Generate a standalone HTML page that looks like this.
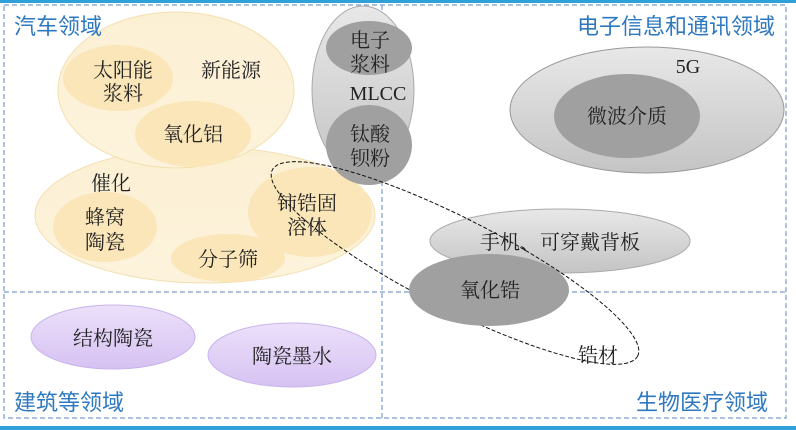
<!DOCTYPE html>
<html><head><meta charset="utf-8"><style>
html,body{margin:0;padding:0;background:#fff;}
svg{display:block;}
text{font-family:"Liberation Serif","Noto Serif CJK SC","Noto Sans CJK SC",serif;font-size:20px;fill:#222;}
.t{font-family:"Liberation Sans","Noto Sans CJK SC",sans-serif;font-size:22px;fill:#2e78c0;}
</style></head><body>
<svg width="796" height="430" viewBox="0 0 796 430">
<defs>
<linearGradient id="y" x1="0" y1="0" x2="0" y2="1"><stop offset="0" stop-color="#fcf0d4"/><stop offset="1" stop-color="#fdf3dc"/></linearGradient>
<linearGradient id="g" x1="0" y1="0" x2="0" y2="1"><stop offset="0" stop-color="#e8e8e8"/><stop offset="1" stop-color="#c4c4c4"/></linearGradient>
<linearGradient id="p" x1="0" y1="0" x2="0" y2="1"><stop offset="0" stop-color="#ece0fa"/><stop offset="1" stop-color="#d6c2f2"/></linearGradient>
</defs>
<rect x="0" y="0" width="796" height="3" fill="#2fa0d8"/>
<rect x="0" y="426" width="796" height="4" fill="#2fa0d8"/>
<g fill="none" stroke="#7a9cc8" stroke-width="1.2" stroke-dasharray="5,3">
<rect x="4" y="5" width="782" height="413"/>
<line x1="382" y1="5" x2="382" y2="418"/>
<line x1="4" y1="292" x2="786" y2="292"/>
</g>
<ellipse cx="205" cy="215" rx="170" ry="68" fill="url(#y)" stroke="#f3dfae" stroke-width="1"/>
<ellipse cx="176" cy="90" rx="118" ry="78" fill="url(#y)" stroke="#f3dfae" stroke-width="1"/>
<ellipse cx="118" cy="78" rx="55" ry="33" fill="#fae6b8"/>
<ellipse cx="193" cy="134" rx="58" ry="33" fill="#fae6b8"/>
<ellipse cx="105" cy="227" rx="52" ry="35" fill="#fae6b8"/>
<ellipse cx="228" cy="258" rx="57" ry="24" fill="#fae6b8"/>
<ellipse cx="310" cy="212" rx="62" ry="45" fill="#fae6b8"/>
<ellipse cx="363" cy="90" rx="51" ry="84" fill="url(#g)" stroke="#aaa" stroke-width="1"/>
<ellipse cx="369" cy="48" rx="43" ry="27" fill="#a0a0a0"/>
<ellipse cx="369" cy="145" rx="43" ry="40" fill="#a0a0a0"/>
<ellipse cx="647" cy="110" rx="137" ry="63" fill="url(#g)" stroke="#999" stroke-width="1"/>
<ellipse cx="627" cy="116" rx="73" ry="42" fill="#a0a0a0"/>
<ellipse cx="560" cy="241" rx="130" ry="32" fill="url(#g)" stroke="#aaa" stroke-width="1"/>
<ellipse cx="113" cy="337" rx="82" ry="32" fill="url(#p)" stroke="#c8b4ec" stroke-width="1"/>
<ellipse cx="292" cy="355" rx="84" ry="32" fill="url(#p)" stroke="#c8b4ec" stroke-width="1"/>
<ellipse cx="455" cy="263" rx="205" ry="45" transform="rotate(27 455 263)" fill="none" stroke="#111" stroke-width="1" stroke-dasharray="4,2"/>
<ellipse cx="489" cy="290" rx="80" ry="36" fill="#a0a0a0"/>
<text class="t" x="14" y="34">汽车领域</text>
<text class="t" x="775" y="34" text-anchor="end">电子信息和通讯领域</text>
<text class="t" x="14" y="410">建筑等领域</text>
<text class="t" x="768" y="410" text-anchor="end">生物医疗领域</text>
<g text-anchor="middle">
<text x="123" y="77">太阳能</text><text x="123" y="100">浆料</text>
<text x="231" y="77">新能源</text>
<text x="193" y="141">氧化铝</text>
<text x="111" y="190">催化</text>
<text x="105" y="224">蜂窝</text><text x="105" y="249">陶瓷</text>
<text x="228" y="266">分子筛</text>
<text x="307" y="210">铈锆固</text><text x="307" y="234">溶体</text>
<text x="370" y="47">电子</text><text x="370" y="71">浆料</text>
<text x="378" y="100">MLCC</text>
<text x="370" y="141">钛酸</text><text x="370" y="165">钡粉</text>
<text x="688" y="73">5G</text>
<text x="627" y="123">微波介质</text>
<text x="560" y="249">手机、可穿戴背板</text>
<text x="490" y="297">氧化锆</text>
<text x="598" y="362">锆材</text>
<text x="113" y="345">结构陶瓷</text>
<text x="292" y="363">陶瓷墨水</text>
</g>
</svg>
</body></html>
